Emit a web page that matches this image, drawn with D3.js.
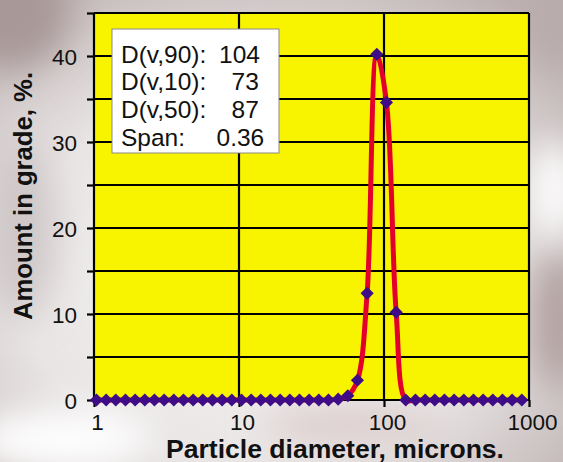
<!DOCTYPE html>
<html>
<head>
<meta charset="utf-8">
<script src="https://cdn.jsdelivr.net/npm/d3@7/dist/d3.min.js"></script>
<style>
  html, body { margin: 0; padding: 0; background: #e8e4e4; }
  svg { display: block; }
  text { font-family: "Liberation Sans", Arial, Helvetica, sans-serif; fill: #111; }
</style>
</head>
<body>
<svg id="chart" width="563" height="462"></svg>
<script>
// ---- data ----
const sizes = [1.040, 1.213, 1.413, 1.648, 1.922, 2.240, 2.612, 3.046, 3.552, 4.140,
               4.828, 5.628, 6.562, 7.650, 8.920, 10.40, 12.13, 14.13, 16.48, 19.22,
               22.40, 26.12, 30.46, 35.52, 41.40, 48.28, 56.28, 65.62, 76.50, 89.20,
               104.0, 121.3, 141.3, 164.8, 192.2, 224.0, 261.2, 304.6, 355.2, 414.0,
               482.8, 562.8, 656.2, 765.0, 892.0];
const amounts = [0, 0, 0, 0, 0, 0, 0, 0, 0, 0,
                 0, 0, 0, 0, 0, 0, 0, 0, 0, 0,
                 0, 0, 0, 0, 0, 0.1, 0.5, 2.3, 12.4, 40.2,
                 34.6, 10.2, 0, 0, 0, 0, 0, 0, 0, 0,
                 0, 0, 0, 0, 0];
const xTicks = [1, 10, 100, 1000];
const xTickLabels = ["1", "10", "100", "1000"];
const yTicks = [0, 10, 20, 30, 40];
const yGrid = [0, 5, 10, 15, 20, 25, 30, 35, 40, 45];
const statLabels = ["D(v,90):", "D(v,10):", "D(v,50):", "Span:"];
const statValues = ["104", "73", "87", "0.36"];
const xTitle = "Particle diameter, microns.";
const yTitle = "Amount in grade, %.";

(function () {
// ---- layout ----
const svg = d3.select("#chart");
const W = 563, H = 462;
const pL = 94, pR = 529, pT = 13, pB = 400;

// background (blurred photo impression)
const defs = svg.append("defs");
defs.append("filter").attr("id", "blur").attr("x", "-50%").attr("y", "-50%")
  .attr("width", "200%").attr("height", "200%")
  .append("feGaussianBlur").attr("stdDeviation", 18);
const rg = defs.append("radialGradient").attr("id", "bgGrad")
  .attr("cx", "45%").attr("cy", "60%").attr("r", "75%");
rg.append("stop").attr("offset", "0%").attr("stop-color", "#f6f4f4");
rg.append("stop").attr("offset", "55%").attr("stop-color", "#e9e5e5");
rg.append("stop").attr("offset", "100%").attr("stop-color", "#bdb1b1");
svg.append("rect").attr("width", W).attr("height", H).attr("fill", "url(#bgGrad)");
const bg = svg.append("g").attr("filter", "url(#blur)");
bg.append("ellipse").attr("cx", 10).attr("cy", 10).attr("rx", 60).attr("ry", 60).attr("fill", "#a89898");
bg.append("ellipse").attr("cx", 560).attr("cy", 20).attr("rx", 40).attr("ry", 50).attr("fill", "#b9acac");
bg.append("ellipse").attr("cx", 560).attr("cy", 320).attr("rx", 30).attr("ry", 70).attr("fill", "#b3a2a2");
bg.append("ellipse").attr("cx", 20).attr("cy", 230).attr("rx", 35).attr("ry", 90).attr("fill", "#cfc7c7");
bg.append("ellipse").attr("cx", 350).attr("cy", 425).attr("rx", 90).attr("ry", 14).attr("fill", "#d7c4c4");
bg.append("ellipse").attr("cx", 60).attr("cy", 440).attr("rx", 90).attr("ry", 30).attr("fill", "#ffffff");
bg.append("ellipse").attr("cx", 555).attr("cy", 190).attr("rx", 25).attr("ry", 50).attr("fill", "#ffffff");

// scales
const x = d3.scaleLog().domain([1, 1000]).range([pL, pR]);
const y = d3.scaleLinear().domain([0, 45]).range([pB, pT]);

// plot area
svg.append("rect").attr("x", pL).attr("y", pT)
  .attr("width", pR - pL).attr("height", pB - pT)
  .attr("fill", "#f8f400");

// horizontal grid lines
svg.append("g").selectAll("line").data(yGrid).join("line")
  .attr("x1", pL).attr("x2", pR)
  .attr("y1", d => y(d)).attr("y2", d => y(d))
  .attr("stroke", "#000").attr("stroke-width", 2.2);

// vertical grid lines / borders
svg.append("g").selectAll("line").data(xTicks).join("line")
  .attr("x1", d => x(d)).attr("x2", d => x(d))
  .attr("y1", pT).attr("y2", pB)
  .attr("stroke", "#000").attr("stroke-width", 2.2);

// y axis
const yAxis = d3.axisLeft(y).tickValues(yGrid).tickSize(7).tickPadding(10)
  .tickFormat(d => yTicks.includes(d) ? String(d) : "");
const ga = svg.append("g").attr("transform", `translate(${pL},0)`).call(yAxis);
ga.select(".domain").remove();
ga.selectAll(".tick line").attr("stroke", "#000").attr("stroke-width", 2.2);
ga.selectAll(".tick text").attr("font-size", 22.5).attr("fill", "#111")
  .attr("font-family", "Liberation Sans, Arial, sans-serif").attr("dy", "0.36em");

// x axis
const xAxis = d3.axisBottom(x).tickValues(xTicks).tickSize(7).tickPadding(7)
  .tickFormat((d, i) => xTickLabels[i]);
const gx = svg.append("g").attr("transform", `translate(0,${pB})`).call(xAxis);
gx.select(".domain").remove();
gx.selectAll(".tick line").attr("stroke", "#000").attr("stroke-width", 2.2);
gx.selectAll(".tick text").attr("font-size", 22.5).attr("fill", "#111")
  .attr("font-family", "Liberation Sans, Arial, sans-serif").attr("dx", 3);

// data line
const pts = sizes.map((s, i) => [s, amounts[i]]);
const line = d3.line().x(d => x(d[0])).y(d => y(d[1])).curve(d3.curveCatmullRom.alpha(0.5));
svg.append("path").datum(pts).attr("d", line)
  .attr("fill", "none").attr("stroke", "#e3002c").attr("stroke-width", 5)
  .attr("stroke-linejoin", "round").attr("stroke-linecap", "round");

// markers (diamonds)
const diamond = d3.symbol().type(d3.symbolDiamond2).size(110);
svg.append("g").selectAll("path").data(pts).join("path")
  .attr("transform", d => `translate(${x(d[0])},${y(d[1])})`)
  .attr("d", diamond)
  .attr("fill", "#3d0c86");

// stats box
const bx = 112, by = 29, bw = 167, bh = 124;
svg.append("rect").attr("x", bx).attr("y", by).attr("width", bw).attr("height", bh)
  .attr("fill", "#fff").attr("stroke", "#8a8a8a").attr("stroke-width", 1);
const baselines = [62.5, 90, 117.5, 145.5];
const valueStarts = [219, 231.5, 231.5, 216.5];
svg.append("g").selectAll("text").data(statLabels).join("text")
  .attr("x", 121).attr("y", (d, i) => baselines[i])
  .attr("font-size", 24.5).text(d => d);
svg.append("g").selectAll("text").data(statValues).join("text")
  .attr("x", (d, i) => valueStarts[i]).attr("y", (d, i) => baselines[i])
  .attr("font-size", 24.5).text(d => d);

// axis titles
svg.append("text").attr("x", 335).attr("y", 458)
  .attr("text-anchor", "middle").attr("font-size", 25).attr("font-weight", "bold")
  .attr("textLength", 338).attr("lengthAdjust", "spacingAndGlyphs")
  .text(xTitle);
svg.append("text")
  .attr("transform", "translate(32,196) rotate(-90)")
  .attr("text-anchor", "middle").attr("font-size", 25).attr("font-weight", "bold")
  .attr("textLength", 248).attr("lengthAdjust", "spacingAndGlyphs")
  .text(yTitle);
})();
</script>
</body>
</html>
